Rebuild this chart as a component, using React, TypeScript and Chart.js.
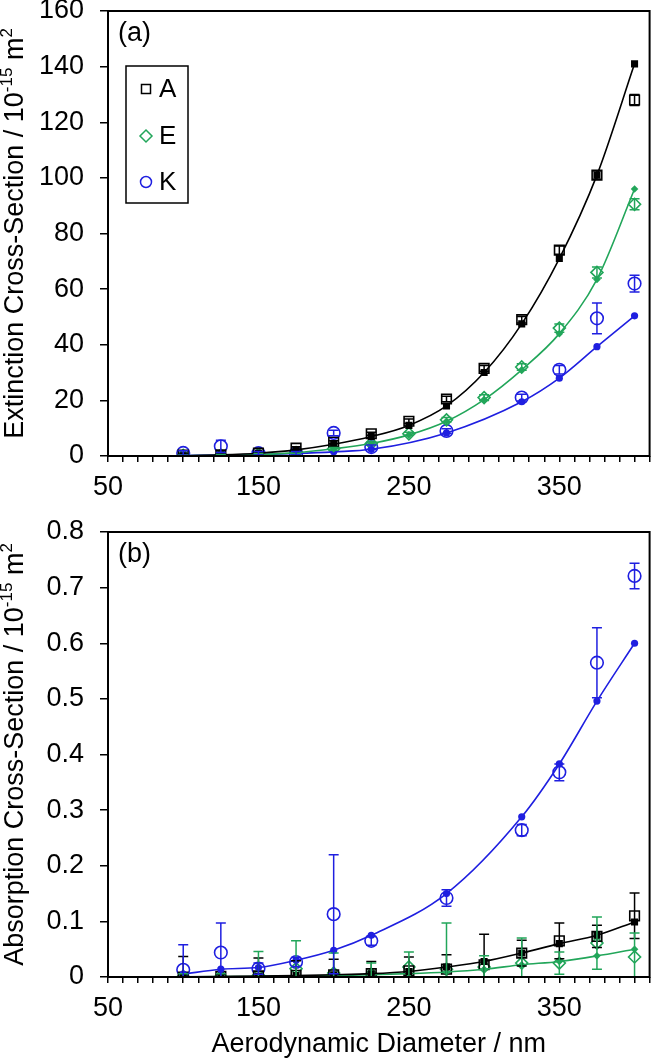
import React, { useEffect, useRef } from "react";
import { Chart, registerables } from "chart.js";
Chart.register(...registerables);

// ---------- data ----------
const diameters = [100, 125, 150, 175, 200, 225, 250, 275, 300, 325, 350, 375, 400];

// (a) Extinction cross-section (10^-15 m^2)
const extA = [0.3, 0.4, 1.0, 2.8, 5.0, 8.0, 12.5, 20.5, 31.5, 49, 74, 101, 128];
const extAErr = [0.3, 0.3, 0.5, 0.5, 0.5, 0.5, 0.8, 1, 1, 1.2, 1.5, 1.5, 2];
const extAModel = [0.1, 0.4, 1.0, 2.2, 4.2, 7.0, 11, 18, 30, 47.5, 71, 101, 141];

const extE = [0.2, 0.3, 0.6, 1.2, 2.6, 4.5, 8, 13, 21, 32, 46, 66, 90.5];
const extEErr = [0.2, 0.2, 0.3, 0.3, 0.5, 0.5, 0.5, 0.8, 1, 1.2, 1.5, 2, 2];
const extEModel = [0.1, 0.2, 0.5, 1.2, 2.6, 4.5, 7.6, 12.5, 20.3, 31, 44, 63.5, 96];

const extK = [1.1, 3.5, 1.0, 1.0, 8.3, 3.2, null, 9.0, null, 21, 31, 49.5, 62];
const extKErr = [0.8, 2.2, 0.6, 0.6, 1.0, 0.8, null, 0.8, null, 1.2, 1.5, 5.5, 3];
const extKModel = [0.2, 0.3, 0.5, 0.9, 1.5, 2.4, null, 8.3, null, 19.5, 28, 39.3, 50.4];

// (b) Absorption cross-section (10^-15 m^2)
const absA = [0.0, 0.001, 0.002, 0.003, 0.004, 0.006, 0.011, 0.014, 0.022, 0.043, 0.065, 0.073, 0.11];
const absAErr = [0.037, 0.004, 0.032, 0.026, 0.028, 0.022, 0.025, 0.026, 0.055, 0.023, 0.032, 0.02, 0.041];
const absAModel = [0.0005, 0.001, 0.0015, 0.0025, 0.004, 0.006, 0.01, 0.018, 0.028, 0.043, 0.06, 0.075, 0.099];

const absE = [0.001, 0.001, 0.003, 0.015, 0.007, 0.005, 0.018, 0.014, 0.018, 0.025, 0.025, 0.061, 0.036];
const absEErr = [0.005, 0.005, 0.043, 0.05, 0.036, 0.02, 0.027, 0.083, 0.02, 0.045, 0.02, 0.047, 0.043];
const absEModel = [0.0003, 0.0006, 0.001, 0.0015, 0.0025, 0.004, 0.006, 0.009, 0.014, 0.022, 0.028, 0.038, 0.05];

const absK = [0.013, 0.044, 0.015, 0.027, 0.113, 0.065, null, 0.142, null, 0.264, 0.368, 0.565, 0.721];
const absKErr = [0.045, 0.053, 0.01, 0.008, 0.107, 0.008, null, 0.015, null, 0.01, 0.015, 0.063, 0.023];
const absKModel = [0.005, 0.014, 0.017, 0.03, 0.048, 0.075, null, 0.15, null, 0.288, 0.383, 0.496, 0.6];

const seriesNames = ["A", "E", "K"];
const xTickLabels = [50, 150, 250, 350];

// ---------- styles ----------
const BLACK = "#000000";
const GREEN = "#22a65a";
const BLUE = "#1f1fe0";
const FONT = "'Liberation Sans', Arial, sans-serif";
const FS = 27;

function toPts(vals: (number | null)[], errs?: (number | null)[]) {
  return diameters.map((x, i) => ({ x, y: vals[i], err: errs ? errs[i] : null }));
}

const errorBarPlugin = {
  id: "errorBars",
  afterDatasetsDraw(chart: any) {
    const { ctx, chartArea } = chart;
    const ys = chart.scales.y;
    ctx.save();
    ctx.beginPath();
    ctx.rect(chartArea.left, chartArea.top, chartArea.right - chartArea.left, chartArea.bottom - chartArea.top);
    ctx.clip();
    chart.data.datasets.forEach((ds: any, di: number) => {
      if (!ds.errorBars) return;
      const meta = chart.getDatasetMeta(di);
      ds.data.forEach((d: any, i: number) => {
        if (d.y == null || d.err == null) return;
        const el = meta.data[i];
        if (!el) return;
        const x = el.x;
        const yT = ys.getPixelForValue(d.y + d.err);
        const yB = ys.getPixelForValue(d.y - d.err);
        ctx.strokeStyle = ds.borderColor;
        ctx.lineWidth = 1.5;
        ctx.beginPath();
        ctx.moveTo(x, yT);
        ctx.lineTo(x, yB);
        ctx.moveTo(x - 5, yT);
        ctx.lineTo(x + 5, yT);
        ctx.moveTo(x - 5, yB);
        ctx.lineTo(x + 5, yB);
        ctx.stroke();
      });
    });
    ctx.restore();
  },
};

function drawSupText(ctx: any, parts: { t: string; sup: boolean }[], cx: number, cy: number, rotate: boolean) {
  ctx.save();
  ctx.fillStyle = BLACK;
  ctx.textBaseline = "middle";
  ctx.textAlign = "left";
  const supFS = 17;
  let total = 0;
  parts.forEach((p) => {
    ctx.font = `${p.sup ? supFS : FS}px ${FONT}`;
    total += ctx.measureText(p.t).width;
  });
  ctx.translate(cx, cy);
  if (rotate) ctx.rotate(-Math.PI / 2);
  let u = -total / 2;
  parts.forEach((p) => {
    ctx.font = `${p.sup ? supFS : FS}px ${FONT}`;
    ctx.fillText(p.t, u, p.sup ? -9 : 0);
    u += ctx.measureText(p.t).width;
  });
  ctx.restore();
}

function drawMarker(ctx: any, kind: string, x: number, y: number, color: string) {
  ctx.save();
  ctx.strokeStyle = color;
  ctx.lineWidth = 1.5;
  ctx.beginPath();
  if (kind === "rect") {
    ctx.rect(x - 4.5, y - 4.5, 9, 9);
  } else if (kind === "rectRot") {
    ctx.moveTo(x, y - 6);
    ctx.lineTo(x + 6, y);
    ctx.lineTo(x, y + 6);
    ctx.lineTo(x - 6, y);
    ctx.closePath();
  } else {
    ctx.arc(x, y, 5.5, 0, Math.PI * 2);
  }
  ctx.stroke();
  ctx.restore();
}

function makeDecorPlugin(opts: { panel: string; yTitle: string; showLegend: boolean; showXTitle: boolean; xTitleY: number }) {
  return {
    id: "decor",
    afterDraw(chart: any) {
      const { ctx, chartArea } = chart;
      ctx.save();
      ctx.strokeStyle = BLACK;
      ctx.lineWidth = 2;
      ctx.strokeRect(chartArea.left, chartArea.top, chartArea.right - chartArea.left, chartArea.bottom - chartArea.top);
      ctx.fillStyle = BLACK;
      ctx.font = `${FS}px ${FONT}`;
      ctx.textBaseline = "middle";
      ctx.textAlign = "left";
      ctx.fillText(opts.panel, chartArea.left + 10, chartArea.top + 23);
      ctx.restore();

      drawSupText(
        ctx,
        [
          { t: opts.yTitle + " / 10", sup: false },
          { t: "-15", sup: true },
          { t: " m", sup: false },
          { t: "2", sup: true },
        ],
        16,
        (chartArea.top + chartArea.bottom) / 2,
        true
      );

      if (opts.showXTitle) {
        ctx.save();
        ctx.fillStyle = BLACK;
        ctx.font = `${FS}px ${FONT}`;
        ctx.textAlign = "center";
        ctx.textBaseline = "middle";
        ctx.fillText("Aerodynamic Diameter / nm", (chartArea.left + chartArea.right) / 2, opts.xTitleY);
        ctx.restore();
      }

      if (opts.showLegend) {
        ctx.save();
        ctx.strokeStyle = BLACK;
        ctx.lineWidth = 1.5;
        ctx.strokeRect(126, 66, 62, 137);
        const kinds = ["rect", "rectRot", "circle"];
        const cols = [BLACK, GREEN, BLUE];
        const ys = [89, 136, 182];
        seriesNames.forEach((n, i) => {
          drawMarker(ctx, kinds[i], 146, ys[i], cols[i]);
          ctx.fillStyle = BLACK;
          ctx.font = `${FS - 1}px ${FONT}`;
          ctx.textAlign = "left";
          ctx.textBaseline = "middle";
          ctx.fillText(n, 159, ys[i] + 1);
        });
        ctx.restore();
      }
    },
  };
}

function buildDatasets(
  a: (number | null)[], aErr: (number | null)[], aModel: (number | null)[],
  e: (number | null)[], eErr: (number | null)[], eModel: (number | null)[],
  k: (number | null)[], kErr: (number | null)[], kModel: (number | null)[]
) {
  const measured = (label: string, vals: any, errs: any, color: string, style: string, r: number) => ({
    label,
    data: toPts(vals, errs),
    showLine: false,
    borderColor: color,
    backgroundColor: "rgba(0,0,0,0)",
    pointStyle: style,
    pointRadius: r,
    pointBorderWidth: 1.6,
    pointBorderColor: color,
    pointBackgroundColor: "rgba(0,0,0,0)",
    errorBars: true,
    order: 2,
  });
  const model = (label: string, vals: any, color: string, style: string, r: number) => ({
    label,
    data: toPts(vals),
    showLine: true,
    spanGaps: true,
    cubicInterpolationMode: "monotone",
    borderColor: color,
    borderWidth: 1.6,
    backgroundColor: color,
    pointStyle: style,
    pointRadius: r,
    pointBorderWidth: 0,
    pointBackgroundColor: color,
    order: 1,
  });
  return [
    measured("A", a, aErr, BLACK, "rect", 6.8),
    measured("E", e, eErr, GREEN, "rectRot", 6),
    measured("K", k, kErr, BLUE, "circle", 6.3),
    model("A model", aModel, BLACK, "rect", 5),
    model("E model", eModel, GREEN, "rectRot", 3.8),
    model("K model", kModel, BLUE, "circle", 3.6),
  ];
}

function makeConfig(
  datasets: any[], yMax: number, yStep: number, yFmt: (v: number) => string,
  padTop: number, xAxisH: number, decor: any
) {
  return {
    type: "scatter",
    data: { datasets },
    options: {
      responsive: false,
      maintainAspectRatio: false,
      animation: false,
      devicePixelRatio: 1,
      layout: { padding: { left: 0, right: 3, top: padTop, bottom: 0 } },
      plugins: { legend: { display: false }, tooltip: { enabled: false } },
      scales: {
        x: {
          type: "linear",
          min: 50,
          max: 410,
          afterBuildTicks: (s: any) => {
            const t = [];
            for (let v = 50; v <= 410; v += 10) t.push({ value: v });
            s.ticks = t;
          },
          ticks: {
            autoSkip: false,
            maxRotation: 0,
            minRotation: 0,
            padding: 9,
            color: BLACK,
            font: { family: FONT, size: FS },
            callback: (v: number) => (xTickLabels.includes(v) ? String(v) : ""),
          },
          grid: { drawOnChartArea: false, drawTicks: true, tickLength: 6, color: BLACK, lineWidth: 1.5 },
          border: { display: false },
          afterFit: (s: any) => {
            s.height = xAxisH;
            s.paddingLeft = 0;
            s.paddingRight = 0;
          },
        },
        y: {
          type: "linear",
          min: 0,
          max: yMax,
          ticks: {
            stepSize: yStep,
            padding: 16,
            color: BLACK,
            font: { family: FONT, size: FS },
            callback: (v: number) => yFmt(v),
          },
          grid: { drawOnChartArea: false, drawTicks: true, tickLength: 8, color: BLACK, lineWidth: 1.5 },
          border: { display: false },
          afterFit: (s: any) => {
            s.width = 108;
            s.paddingTop = 0;
            s.paddingBottom = 0;
          },
        },
      },
    },
    plugins: [errorBarPlugin, decor],
  };
}

function makePanel(panel: string, yTitle: string, showLegend: boolean, showXTitle: boolean, xTitleY: number) {
  return makeDecorPlugin({ panel, yTitle, showLegend, showXTitle, xTitleY });
}

export default function App() {
  const topRef = useRef<HTMLCanvasElement | null>(null);
  const botRef = useRef<HTMLCanvasElement | null>(null);

  useEffect(() => {
    const top = new Chart(
      topRef.current as HTMLCanvasElement,
      makeConfig(
        buildDatasets(extA, extAErr, extAModel, extE, extEErr, extEModel, extK, extKErr, extKModel),
        160, 20, (v) => String(Math.round(v)),
        11, 44,
        makePanel("(a)", "Extinction Cross-Section", true, false, 0)
      ) as any
    );
    const bot = new Chart(
      botRef.current as HTMLCanvasElement,
      makeConfig(
        buildDatasets(absA, absAErr, absAModel, absE, absEErr, absEModel, absK, absKErr, absKModel),
        0.8, 0.1, (v) => (Math.abs(v) < 1e-9 ? "0" : (Math.round(v * 10) / 10).toString()),
        32, 87,
        makePanel("(b)", "Absorption Cross-Section", false, true, 545)
      ) as any
    );
    return () => {
      top.destroy();
      bot.destroy();
    };
  }, []);

  return (
    <div style={{ position: "absolute", left: 0, top: 0, width: 658, height: 1064, background: "#fff" }}>
      <canvas ref={topRef} width={658} height={500} style={{ display: "block", width: 658, height: 500 }} />
      <canvas ref={botRef} width={658} height={564} style={{ display: "block", width: 658, height: 564 }} />
    </div>
  );
}
